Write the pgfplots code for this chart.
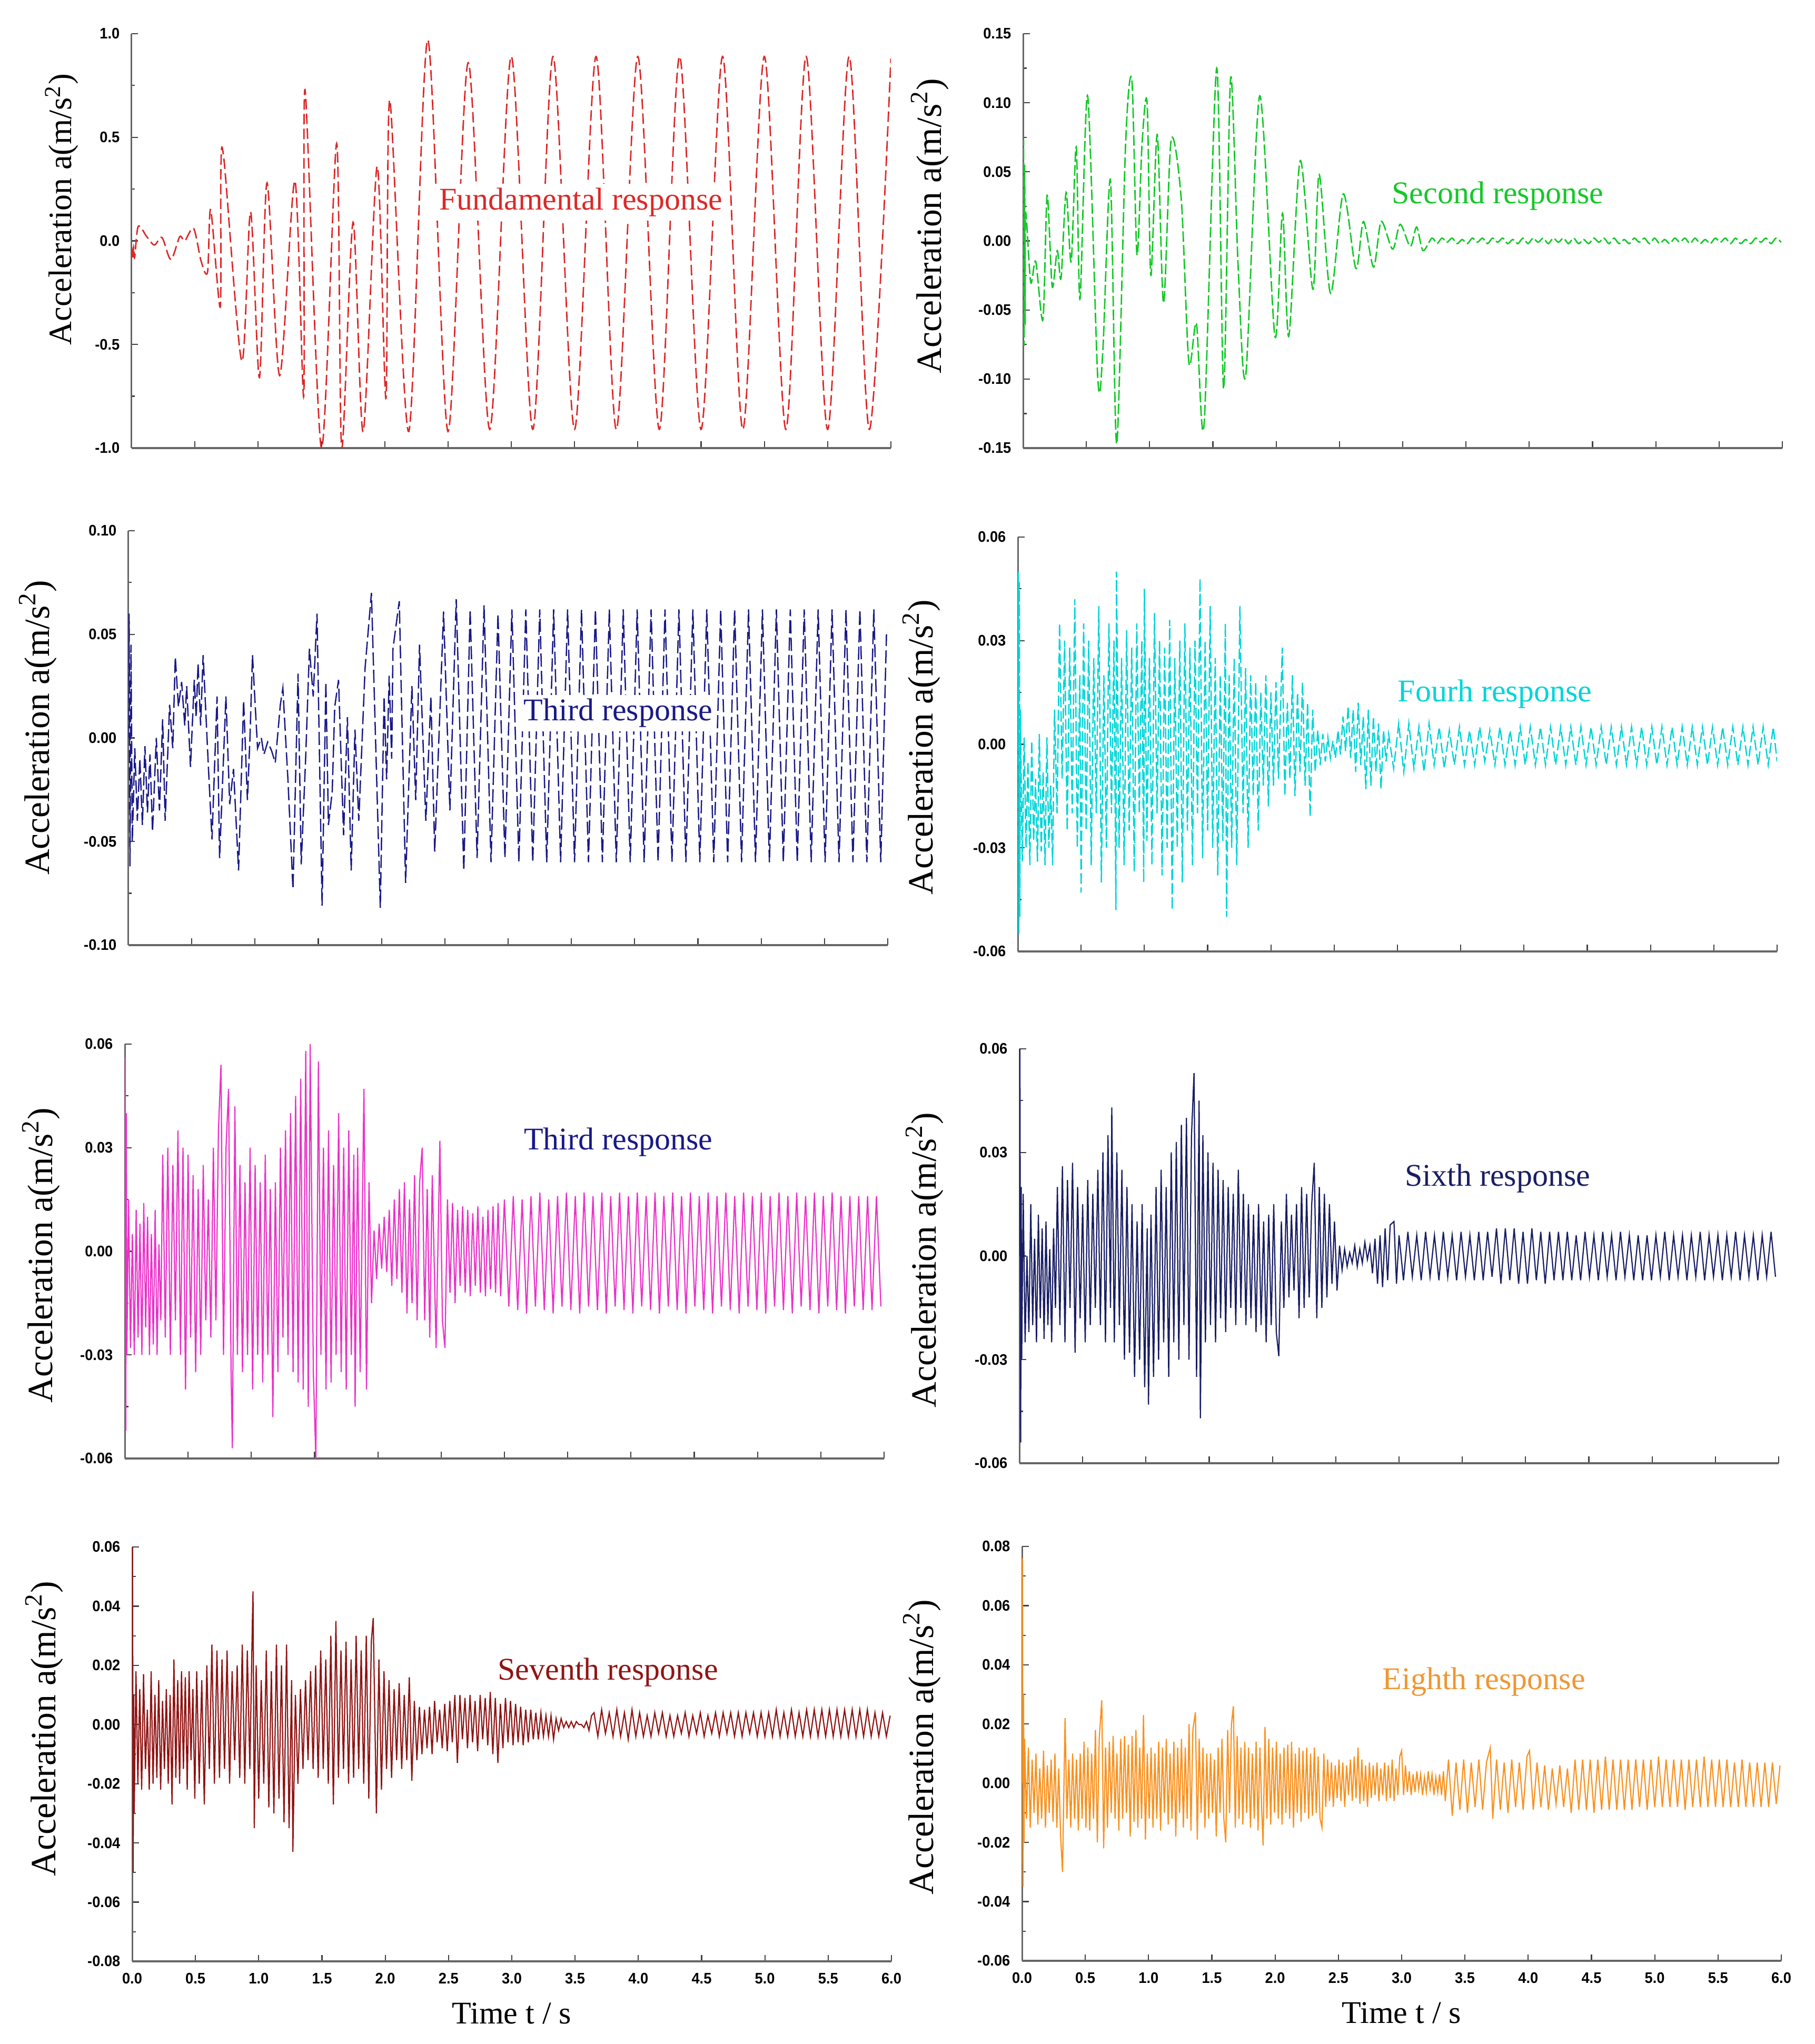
\documentclass[border=0pt]{standalone}
\usepackage{fontspec}
\setmainfont{Liberation Serif}
\newfontfamily\tickfont[FakeStretch=0.94]{Liberation Sans}
\usepackage{pgfplots}
\pgfplotsset{compat=1.18}
\definecolor{c1}{RGB}{220,40,40}
\definecolor{c2}{RGB}{20,200,40}
\definecolor{c3}{RGB}{25,25,135}
\definecolor{c4}{RGB}{0,212,215}
\definecolor{c5}{RGB}{235,50,200}
\definecolor{c6}{RGB}{25,30,100}
\definecolor{c7}{RGB}{145,20,20}
\definecolor{c8}{RGB}{250,145,30}
\definecolor{t8}{RGB}{240,150,50}
\tikzset{tit/.style={font=\fontsize{12}{14}\selectfont, fill=white, inner sep=1.5pt}}
\pgfplotsset{
 resp/.style={
  scale only axis, width=288.4pt, height=157.4pt,
  xmin=0, xmax=6, xtick={0,0.5,...,6},
  scaled ticks=false,
  axis x line*=bottom, axis y line*=left,
  x axis line style={-, line width=0.9pt, draw=black!60},
  y axis line style={-, line width=0.6pt, draw=black!60},
  tick align=inside,
  major tick length=2.5pt, minor tick length=1.3pt,
  every tick/.style={black!75, line width=0.45pt},
  minor y tick num=1,
  tick label style={font={\fontsize{5.8}{7}\tickfont\bfseries}},
  /pgf/number format/assume math mode=true,
  yticklabel style={xshift=-1pt, /pgf/number format/fixed, /pgf/number format/fixed zerofill, /pgf/number format/precision=2},
  xticklabel style={yshift=-1pt, /pgf/number format/fixed, /pgf/number format/fixed zerofill, /pgf/number format/precision=1},
  ylabel={Acceleration a(m/s\textsuperscript{2})},
  every axis y label/.style={rotate=90, anchor=center, at={(axis description cs:-0.12,0.5)}, font=\fontsize{13.5}{15}\selectfont},
  every axis x label/.style={anchor=center, at={(axis description cs:0.5,-0.126)}, font=\fontsize{12}{14}\selectfont},
  anchor=south west,
 },
 nox/.style={xticklabels={}},
}
\begin{document}
\begin{tikzpicture}
\path[use as bounding box] (0,0) rectangle (689.4pt,776.4pt);
% ---------------- Panel 1
\begin{axis}[resp, nox, at={(50pt,606.2pt)}, ymin=-1, ymax=1, ytick={-1,-0.5,0,0.5,1},
  yticklabel style={/pgf/number format/precision=1},
  ylabel style={at={(axis description cs:-0.092,0.576)}, font=\fontsize{12.4}{14}\selectfont}]
\addplot[c1, line width=0.55pt, smooth, tension=0.5, dash pattern=on 4pt off 1.6pt] coordinates {
(0,-0.03) (0.008,-0.09) (0.016,-0.03) (0.024,-0.08) (0.052,0.07) (0.12,0.02) (0.18,-0.02) (0.24,0.016) (0.31,-0.09) (0.38,0.02) (0.42,0.0) (0.49,0.06) (0.55,-0.10) (0.60,-0.15) (0.625,0.15) (0.70,-0.32) (0.705,0.33) (0.73,0.39) (0.87,-0.58) (0.94,0.14) (1.01,-0.66) (1.07,0.28) (1.17,-0.65) (1.29,0.29) (1.36,-0.75) (1.37,0.73) (1.50,-1.0) (1.62,0.47) (1.66,-1.0) (1.75,0.09) (1.83,-0.92) (1.94,0.36) (2.01,-0.76) (2.04,0.68) (2.19,-0.92) (2.34,0.97) (2.50,-0.92) (2.66,0.86) (2.83,-0.91) (3.00,0.89) (3.17,-0.91) (3.33,0.89) (3.50,-0.91) (3.67,0.89) (3.83,-0.91) (4.00,0.89) (4.17,-0.91) (4.33,0.89) (4.50,-0.91) (4.67,0.89) (4.83,-0.91) (5.00,0.89) (5.17,-0.91) (5.33,0.89) (5.50,-0.91) (5.67,0.89) (5.83,-0.91) (6.00,0.88)};
\node[tit, text=c1] at (axis cs:3.55,0.187) {Fundamental response};
\end{axis}
% ---------------- Panel 2
\begin{axis}[resp, nox, at={(388.6pt,606.2pt)}, ymin=-0.15, ymax=0.15, ytick={-0.15,-0.1,-0.05,0,0.05,0.1,0.15},
  ylabel style={at={(axis description cs:-0.123,0.536)}}]
\addplot[c2, line width=0.55pt, smooth, tension=0.5, dash pattern=on 4pt off 1.2pt] coordinates {
(0,0) (0.004,0.072) (0.008,-0.076) (0.012,0.055) (0.016,-0.06) (0.02,0.02) (0.06,-0.03) (0.10,-0.015) (0.157,-0.057) (0.19,0.033) (0.23,-0.033) (0.27,-0.007) (0.30,-0.027) (0.34,0.035) (0.38,-0.015) (0.42,0.068) (0.45,-0.042) (0.51,0.105) (0.59,-0.099) (0.63,-0.08) (0.69,0.044) (0.74,-0.147) (0.81,0.07) (0.86,0.116) (0.90,-0.01) (0.94,0.07) (0.98,0.10) (1.01,-0.025) (1.06,0.077) (1.11,-0.045) (1.17,0.073) (1.25,0.03) (1.31,-0.088) (1.37,-0.06) (1.43,-0.133) (1.53,0.125) (1.585,-0.107) (1.64,0.118) (1.70,-0.02) (1.76,-0.097) (1.87,0.105) (1.99,-0.069) (2.05,0.02) (2.10,-0.069) (2.19,0.058) (2.29,-0.035) (2.34,0.048) (2.43,-0.038) (2.53,0.034) (2.63,-0.02) (2.69,0.014) (2.77,-0.019) (2.83,0.014) (2.92,-0.006) (2.98,0.012) (3.06,-0.004) (3.11,0.010) (3.16,-0.007) (3.23,0.002)
(3.27,-0.002) (3.31,0.002) (3.35,-0.001) (3.39,0.002) (3.43,-0.002) (3.47,0.001) (3.51,-0.002) (3.55,0.002) (3.59,-0.001) (3.63,0.002) (3.67,-0.002) (3.71,0.002) (3.75,-0.001) (3.79,0.002) (3.83,-0.002) (3.87,0.001) (3.91,-0.002) (3.95,0.002) (3.99,-0.002) (4.03,0.002) (4.07,-0.001) (4.11,0.002) (4.15,-0.002) (4.19,0.002) (4.23,-0.001) (4.27,0.002) (4.31,-0.002) (4.35,0.002) (4.39,-0.002) (4.43,0.001) (4.47,-0.002) (4.51,0.002) (4.55,-0.001) (4.59,0.002) (4.63,-0.002) (4.67,0.002) (4.71,-0.002) (4.75,0.001) (4.79,-0.002) (4.83,0.002) (4.87,-0.001) (4.91,0.002) (4.95,-0.002) (4.99,0.002) (5.03,-0.002) (5.07,0.001) (5.11,-0.002) (5.15,0.002) (5.19,-0.001) (5.23,0.002) (5.27,-0.002) (5.31,0.002) (5.35,-0.002) (5.39,0.001) (5.43,-0.002) (5.47,0.002) (5.51,-0.001) (5.55,0.002) (5.59,-0.002) (5.63,0.002) (5.67,-0.002) (5.71,0.001) (5.75,-0.002) (5.79,0.002) (5.83,-0.001) (5.87,0.002) (5.91,-0.002) (5.95,0.002) (5.99,-0.001)};
\node[tit, text=c2] at (axis cs:3.75,0.0327) {Second response};
\end{axis}
% ---------------- Panel 3
\begin{axis}[resp, nox, at={(48.8pt,417.4pt)}, ymin=-0.1, ymax=0.1, ytick={-0.1,-0.05,0,0.05,0.1},
  ylabel style={at={(axis description cs:-0.119,0.525)}}]
\addplot[c3, line width=0.5pt, dash pattern=on 5pt off 1.6pt] coordinates {
(0,0.0) (0.005,0.06) (0.012,-0.062) (0.02,0.045) (0.03,-0.05) (0.05,-0.005) (0.07,-0.04) (0.09,-0.01) (0.11,-0.042) (0.13,-0.004) (0.15,-0.036) (0.17,-0.008) (0.19,-0.045) (0.22,0.0) (0.245,-0.035) (0.27,0.009) (0.29,-0.04) (0.325,0.016) (0.35,-0.005) (0.37,0.039) (0.395,0.015) (0.42,0.027) (0.445,0.006) (0.46,0.025) (0.49,-0.014) (0.52,0.028) (0.535,0.01) (0.55,0.036) (0.57,0.006) (0.59,0.04) (0.63,-0.012) (0.66,-0.049) (0.70,0.02) (0.72,-0.058) (0.77,0.02) (0.80,-0.032) (0.83,-0.015) (0.87,-0.064) (0.91,0.018) (0.94,-0.03) (0.96,0.0) (0.98,0.04) (1.02,-0.005) (1.05,0.0) (1.07,-0.008) (1.10,-0.002) (1.13,-0.006) (1.16,-0.012) (1.20,0.016) (1.22,0.024) (1.26,-0.02) (1.30,-0.073) (1.34,0.031) (1.365,-0.061) (1.40,-0.01) (1.43,0.043) (1.46,0.02) (1.49,0.06) (1.53,-0.081) (1.56,0.027) (1.58,-0.042) (1.61,-0.026) (1.63,0.015) (1.66,0.028) (1.70,-0.047) (1.73,0.01) (1.76,-0.064) (1.79,0.004) (1.82,-0.04) (1.87,0.034) (1.92,0.07) (1.99,-0.082) (2.02,0.02) (2.04,-0.02) (2.06,0.03) (2.08,-0.01) (2.09,0.043) (2.14,0.066) (2.19,-0.07) (2.24,0.025) (2.27,-0.03) (2.30,0.045) (2.35,-0.04) (2.39,0.02) (2.42,-0.055) (2.49,0.061) (2.54,-0.035) (2.59,0.067) (2.65,-0.064)
(2.70,0.062) (2.755,-0.058) (2.81,0.064) (2.865,-0.06) (2.92,0.06) (2.975,-0.058) (3.03,0.062) (3.085,-0.06) (3.14,0.062) (3.195,-0.06) (3.25,0.062) (3.305,-0.06) (3.36,0.062) (3.415,-0.06) (3.47,0.062) (3.525,-0.06) (3.58,0.062) (3.635,-0.06) (3.69,0.062) (3.745,-0.06) (3.80,0.062) (3.855,-0.06) (3.91,0.062) (3.965,-0.06) (4.02,0.062) (4.075,-0.06) (4.13,0.062) (4.185,-0.06) (4.24,0.062) (4.295,-0.06) (4.35,0.062) (4.405,-0.06) (4.46,0.062) (4.515,-0.06) (4.57,0.062) (4.625,-0.06) (4.68,0.062) (4.735,-0.06) (4.79,0.062) (4.845,-0.06) (4.90,0.062) (4.955,-0.06) (5.01,0.062) (5.065,-0.06) (5.12,0.062) (5.175,-0.06) (5.23,0.062) (5.285,-0.06) (5.34,0.062) (5.395,-0.06) (5.45,0.062) (5.505,-0.06) (5.56,0.062) (5.615,-0.06) (5.67,0.062) (5.725,-0.06) (5.78,0.062) (5.835,-0.06) (5.89,0.062) (5.945,-0.06) (5.99,0.05)};
\node[tit, text=c3] at (axis cs:3.87,0.012) {Third response};
\end{axis}
% ---------------- Panel 4
\begin{axis}[resp, nox, at={(386.6pt,415pt)}, ymin=-0.06, ymax=0.06, ytick={-0.06,-0.03,0,0.03,0.06},
  ylabel style={at={(axis description cs:-0.127,0.493)}}]
\addplot[c4, line width=0.5pt, dash pattern=on 4pt off 1.4pt] coordinates {
(0,0) (0.004,0.05) (0.008,-0.055) (0.012,0.047) (0.016,-0.05) (0.02,0.01) (0.035,-0.034) (0.05,0.002) (0.065,-0.03) (0.08,-0.005) (0.095,-0.035) (0.11,0.001) (0.125,-0.028) (0.14,-0.01) (0.155,-0.034) (0.17,0.003) (0.185,-0.031) (0.20,-0.008) (0.215,-0.035) (0.23,0.002) (0.245,-0.03) (0.26,-0.012) (0.275,-0.035) (0.29,0.01) (0.31,-0.02) (0.33,0.035) (0.35,-0.01) (0.37,0.03) (0.39,-0.025) (0.41,0.028) (0.43,-0.02) (0.45,0.042) (0.47,-0.03) (0.49,0.02) (0.50,-0.043) (0.52,0.035) (0.54,-0.025) (0.56,0.03) (0.58,-0.035) (0.60,0.025) (0.62,-0.02) (0.64,0.04) (0.66,-0.04) (0.68,0.02) (0.70,-0.03) (0.72,0.035) (0.74,-0.02) (0.76,0.03) (0.775,-0.048) (0.78,0.05) (0.80,-0.03) (0.82,0.025) (0.84,-0.035) (0.86,0.033) (0.88,-0.025) (0.90,0.028) (0.92,-0.037) (0.94,0.035) (0.96,-0.02) (0.98,0.03) (0.995,-0.04) (1.00,0.045) (1.02,-0.028) (1.04,0.025) (1.06,-0.035) (1.08,0.038) (1.10,-0.02) (1.12,0.03) (1.14,-0.038) (1.16,0.028) (1.18,-0.03) (1.20,0.036) (1.22,-0.048) (1.24,0.025) (1.26,-0.03) (1.28,0.03) (1.30,-0.04) (1.32,0.035) (1.34,-0.025) (1.36,0.028) (1.38,-0.035) (1.40,0.03) (1.42,-0.02) (1.44,0.048) (1.46,-0.033) (1.48,0.03) (1.50,-0.025) (1.52,0.04) (1.54,-0.03) (1.56,0.025) (1.58,-0.038) (1.60,0.02) (1.62,-0.028) (1.64,0.035) (1.65,-0.05) (1.67,0.02) (1.69,-0.03) (1.71,0.025) (1.73,-0.035) (1.755,0.04) (1.78,-0.02) (1.80,0.022) (1.82,-0.03) (1.84,0.02) (1.86,-0.015) (1.88,0.018) (1.90,-0.025) (1.92,0.015) (1.94,-0.012) (1.96,0.02) (1.98,-0.018) (2.00,0.015) (2.02,-0.012) (2.04,0.018) (2.06,-0.01) (2.09,0.028) (2.11,-0.015) (2.13,0.012) (2.15,-0.01) (2.17,0.02) (2.19,-0.015) (2.21,0.015) (2.23,-0.008) (2.25,0.018) (2.27,-0.012) (2.29,0.012) (2.31,-0.021) (2.33,0.01) (2.35,-0.008) (2.37,0.004) (2.39,-0.006) (2.41,0.003) (2.43,-0.005) (2.45,0.002) (2.47,-0.004) (2.49,0.001) (2.51,-0.004) (2.53,0.004) (2.55,-0.003) (2.57,0.008) (2.59,-0.002) (2.61,0.011) (2.63,-0.004) (2.65,0.01) (2.67,-0.008) (2.69,0.012) (2.71,-0.006) (2.73,0.008) (2.75,-0.013) (2.77,0.01) (2.79,-0.012) (2.81,0.008) (2.83,-0.008) (2.85,0.006) (2.87,-0.013) (2.89,0.004) (2.91,-0.005) (2.93,0.003)
(2.97,-0.007) (3.01,0.006) (3.05,-0.008) (3.09,0.006) (3.13,-0.007) (3.17,0.005) (3.21,-0.008) (3.25,0.006) (3.29,-0.006) (3.33,0.005) (3.37,-0.007) (3.41,0.004) (3.45,-0.006) (3.49,0.005) (3.53,-0.006) (3.57,0.004) (3.61,-0.006) (3.65,0.005) (3.69,-0.005) (3.73,0.004) (3.77,-0.006) (3.81,0.005) (3.85,-0.006) (3.89,0.004) (3.93,-0.006) (3.97,0.005) (4.01,-0.006) (4.05,0.005) (4.09,-0.006) (4.13,0.005) (4.17,-0.006) (4.21,0.005) (4.25,-0.006) (4.29,0.005) (4.33,-0.006) (4.37,0.005) (4.41,-0.006) (4.45,0.005) (4.49,-0.006) (4.53,0.005) (4.57,-0.006) (4.61,0.005) (4.65,-0.006) (4.69,0.005) (4.73,-0.006) (4.77,0.005) (4.81,-0.006) (4.85,0.005) (4.89,-0.006) (4.93,0.005) (4.97,-0.006) (5.01,0.005) (5.05,-0.006) (5.09,0.005) (5.13,-0.006) (5.17,0.005) (5.21,-0.006) (5.25,0.005) (5.29,-0.006) (5.33,0.005) (5.37,-0.006) (5.41,0.005) (5.45,-0.006) (5.49,0.005) (5.53,-0.006) (5.57,0.005) (5.61,-0.006) (5.65,0.005) (5.69,-0.006) (5.73,0.005) (5.77,-0.006) (5.81,0.005) (5.85,-0.006) (5.89,0.005) (5.93,-0.006) (5.97,0.005) (6.0,-0.005)};
\node[tit, text=c4] at (axis cs:3.77,0.0145) {Fourh response};
\end{axis}
% ---------------- Panel 5
\begin{axis}[resp, nox, at={(47.4pt,222.4pt)}, ymin=-0.06, ymax=0.06, ytick={-0.06,-0.03,0,0.03,0.06},
  ylabel style={at={(axis description cs:-0.110,0.49)}}]
\addplot[c5, line width=0.45pt] coordinates {
(0,0) (0.004,0.056) (0.008,-0.052) (0.012,0.04) (0.016,-0.03) (0.03,0.015) (0.045,-0.028) (0.06,0.005) (0.075,-0.03) (0.09,0.012) (0.105,-0.025) (0.12,0.008) (0.135,-0.03) (0.15,0.014) (0.165,-0.022) (0.18,0.01) (0.195,-0.03) (0.21,0.005) (0.225,-0.027) (0.24,0.012) (0.255,-0.03) (0.27,0.002) (0.285,-0.02) (0.30,0.028) (0.32,-0.025) (0.34,0.03) (0.36,-0.03) (0.38,0.025) (0.40,-0.02) (0.42,0.035) (0.44,-0.03) (0.46,0.03) (0.48,-0.04) (0.50,0.028) (0.52,-0.025) (0.54,0.022) (0.56,-0.035) (0.58,0.018) (0.60,-0.03) (0.62,0.025) (0.64,-0.02) (0.66,0.015) (0.68,-0.025) (0.70,0.03) (0.72,-0.02) (0.74,0.035) (0.76,0.054) (0.78,-0.03) (0.80,0.03) (0.82,0.047) (0.84,-0.035) (0.85,-0.057) (0.87,0.042) (0.89,-0.03) (0.91,0.025) (0.93,-0.035) (0.95,0.02) (0.97,-0.03) (0.99,0.03) (1.01,-0.04) (1.03,0.025) (1.05,-0.03) (1.07,0.02) (1.09,-0.038) (1.11,0.028) (1.13,-0.03) (1.15,0.018) (1.17,-0.048) (1.19,0.02) (1.21,-0.035) (1.23,0.03) (1.25,-0.025) (1.27,0.035) (1.29,-0.03) (1.31,0.04) (1.33,-0.035) (1.35,0.045) (1.37,-0.038) (1.39,0.05) (1.41,-0.04) (1.43,0.058) (1.45,-0.045) (1.465,0.06) (1.49,-0.035) (1.51,-0.06) (1.53,0.055) (1.55,-0.03) (1.57,0.03) (1.59,-0.04) (1.61,0.035) (1.63,-0.038) (1.65,0.025) (1.67,-0.03) (1.69,0.04) (1.71,-0.035) (1.73,0.03) (1.75,-0.04) (1.77,0.035) (1.79,-0.03) (1.81,0.028) (1.82,-0.045) (1.84,0.03) (1.86,-0.035) (1.89,0.047) (1.91,-0.04) (1.93,0.02) (1.95,-0.015) (1.97,0.006) (1.99,-0.008) (2.01,0.008) (2.03,-0.005) (2.05,0.01) (2.07,-0.006) (2.09,0.012) (2.11,-0.01) (2.13,0.015) (2.15,-0.008) (2.17,0.018) (2.19,-0.012) (2.21,0.02) (2.23,-0.018) (2.25,0.015) (2.27,-0.015) (2.29,0.022) (2.31,-0.02) (2.33,0.02) (2.35,0.03) (2.37,-0.02) (2.39,0.018) (2.41,-0.025) (2.43,0.022) (2.46,-0.028) (2.49,0.032) (2.51,-0.02) (2.53,-0.028) (2.55,0.015) (2.57,-0.012) (2.59,0.014) (2.61,-0.015) (2.63,0.012) (2.65,-0.01) (2.67,0.013) (2.69,-0.012) (2.71,0.012) (2.73,-0.013) (2.75,0.011) (2.77,-0.01) (2.79,0.013) (2.81,-0.012) (2.83,0.01) (2.85,-0.013) (2.87,0.012) (2.89,-0.011) (2.91,0.013) (2.93,-0.012) (2.95,0.014) (2.97,-0.013)
(3.000,0.015) (3.035,-0.016) (3.070,0.016) (3.105,-0.017) (3.140,0.015) (3.175,-0.018) (3.210,0.016) (3.245,-0.016) (3.280,0.017) (3.315,-0.017) (3.350,0.015) (3.385,-0.018) (3.420,0.016) (3.455,-0.016) (3.490,0.017) (3.525,-0.017) (3.560,0.016) (3.595,-0.018) (3.630,0.017) (3.665,-0.016) (3.700,0.016) (3.735,-0.017) (3.770,0.017) (3.805,-0.018) (3.840,0.016) (3.875,-0.016) (3.910,0.017) (3.945,-0.017) (3.980,0.016) (4.015,-0.018) (4.050,0.017) (4.085,-0.016) (4.120,0.016) (4.155,-0.017) (4.190,0.017) (4.225,-0.018) (4.260,0.016) (4.295,-0.016) (4.330,0.017) (4.365,-0.017) (4.400,0.016) (4.435,-0.018) (4.470,0.017) (4.505,-0.016) (4.540,0.016) (4.575,-0.017) (4.610,0.017) (4.645,-0.018) (4.680,0.016) (4.715,-0.016) (4.750,0.017) (4.785,-0.017) (4.820,0.016) (4.855,-0.018) (4.890,0.017) (4.925,-0.016) (4.960,0.016) (4.995,-0.017) (5.030,0.017) (5.065,-0.018) (5.100,0.016) (5.135,-0.016) (5.170,0.017) (5.205,-0.017) (5.240,0.016) (5.275,-0.018) (5.310,0.017) (5.345,-0.016) (5.380,0.016) (5.415,-0.017) (5.450,0.017) (5.485,-0.018) (5.520,0.016) (5.555,-0.016) (5.590,0.017) (5.625,-0.017) (5.660,0.016) (5.695,-0.018) (5.730,0.016) (5.765,-0.016) (5.800,0.016) (5.835,-0.017) (5.870,0.016) (5.905,-0.017) (5.940,0.016) (5.975,-0.016)};
\node[tit, text=c3] at (axis cs:3.9,0.0317) {Third response};
\end{axis}
% ---------------- Panel 6
\begin{axis}[resp, nox, at={(387.2pt,220.6pt)}, ymin=-0.06, ymax=0.06, ytick={-0.06,-0.03,0,0.03,0.06},
  ylabel style={at={(axis description cs:-0.125,0.49)}}]
\addplot[c6, line width=0.45pt] coordinates {
(0,0) (0.004,0.06) (0.01,-0.054) (0.014,0.02) (0.018,-0.03) (0.03,0.018) (0.045,-0.025) (0.06,0.0) (0.075,-0.022) (0.09,0.015) (0.105,-0.02) (0.12,0.005) (0.135,-0.025) (0.15,0.012) (0.165,-0.018) (0.18,0.008) (0.195,-0.024) (0.21,0.01) (0.225,-0.02) (0.24,0.002) (0.255,-0.025) (0.27,0.008) (0.285,-0.015) (0.30,0.02) (0.32,-0.02) (0.34,0.026) (0.36,-0.025) (0.38,0.022) (0.40,-0.015) (0.42,0.027) (0.44,-0.028) (0.46,0.02) (0.48,-0.018) (0.50,0.015) (0.52,-0.025) (0.54,0.022) (0.56,-0.02) (0.58,0.018) (0.60,-0.015) (0.62,0.025) (0.64,-0.02) (0.66,0.03) (0.68,-0.025) (0.70,0.035) (0.72,-0.015) (0.73,0.043) (0.75,-0.025) (0.77,0.03) (0.79,-0.02) (0.81,0.025) (0.83,-0.03) (0.85,0.02) (0.87,-0.028) (0.89,0.015) (0.91,-0.035) (0.93,0.01) (0.95,-0.03) (0.97,0.015) (0.99,-0.038) (1.01,0.008) (1.02,-0.043) (1.04,0.012) (1.06,-0.035) (1.08,0.02) (1.10,-0.03) (1.12,0.025) (1.14,-0.025) (1.16,0.02) (1.18,-0.035) (1.20,0.03) (1.22,-0.025) (1.24,0.033) (1.26,-0.03) (1.28,0.038) (1.30,-0.02) (1.32,0.04) (1.34,-0.03) (1.36,0.035) (1.38,0.053) (1.40,-0.035) (1.42,0.045) (1.43,-0.047) (1.45,0.035) (1.47,-0.025) (1.49,0.03) (1.51,-0.02) (1.53,0.027) (1.55,-0.025) (1.57,0.025) (1.59,-0.018) (1.61,0.022) (1.63,-0.022) (1.65,0.02) (1.67,-0.015) (1.69,0.018) (1.71,-0.02) (1.73,0.025) (1.75,-0.015) (1.77,0.018) (1.79,-0.02) (1.81,0.015) (1.83,-0.018) (1.85,0.012) (1.87,-0.022) (1.89,0.015) (1.91,-0.02) (1.93,0.01) (1.95,-0.025) (1.97,0.012) (1.99,-0.02) (2.01,0.015) (2.03,-0.022) (2.05,-0.029) (2.07,0.01) (2.09,-0.015) (2.11,0.018) (2.13,-0.012) (2.15,0.012) (2.17,-0.01) (2.19,0.015) (2.21,-0.018) (2.23,0.02) (2.25,-0.015) (2.27,0.018) (2.29,-0.012) (2.31,0.015) (2.33,0.027) (2.35,-0.018) (2.37,0.02) (2.39,-0.015) (2.41,0.018) (2.43,-0.012) (2.45,0.015) (2.47,-0.008) (2.49,0.01) (2.51,-0.01) (2.53,0.003) (2.55,-0.004) (2.57,0.002) (2.59,-0.003) (2.61,0.001) (2.63,-0.002) (2.65,0.003) (2.67,-0.003) (2.69,0.002) (2.71,-0.002) (2.73,0.004) (2.75,-0.001) (2.77,0.003) (2.79,-0.005) (2.81,0.005) (2.83,-0.008) (2.85,0.006) (2.87,-0.009) (2.89,0.008) (2.91,-0.007) (2.93,0.009) (2.96,0.01) (2.98,-0.008)
(3.000,0.006) (3.035,-0.007) (3.070,0.007) (3.105,-0.006) (3.140,0.006) (3.175,-0.007) (3.210,0.007) (3.245,-0.006) (3.280,0.006) (3.315,-0.007) (3.350,0.007) (3.385,-0.006) (3.420,0.006) (3.455,-0.007) (3.490,0.007) (3.525,-0.006) (3.560,0.006) (3.595,-0.007) (3.630,0.007) (3.665,-0.007) (3.700,0.007) (3.735,-0.006) (3.770,0.008) (3.805,-0.008) (3.840,0.008) (3.875,-0.007) (3.910,0.008) (3.945,-0.008) (3.980,0.007) (4.015,-0.008) (4.050,0.008) (4.085,-0.007) (4.120,0.007) (4.155,-0.008) (4.190,0.007) (4.225,-0.007) (4.260,0.007) (4.295,-0.007) (4.330,0.007) (4.365,-0.007) (4.400,0.006) (4.435,-0.007) (4.470,0.007) (4.505,-0.006) (4.540,0.006) (4.575,-0.007) (4.610,0.007) (4.645,-0.006) (4.680,0.006) (4.715,-0.007) (4.750,0.007) (4.785,-0.006) (4.820,0.006) (4.855,-0.007) (4.890,0.006) (4.925,-0.007) (4.960,0.006) (4.995,-0.007) (5.030,0.006) (5.065,-0.006) (5.100,0.007) (5.135,-0.007) (5.170,0.006) (5.205,-0.006) (5.240,0.006) (5.275,-0.007) (5.310,0.006) (5.345,-0.006) (5.380,0.007) (5.415,-0.007) (5.450,0.006) (5.485,-0.006) (5.520,0.006) (5.555,-0.007) (5.590,0.006) (5.625,-0.006) (5.660,0.007) (5.695,-0.007) (5.730,0.006) (5.765,-0.006) (5.800,0.006) (5.835,-0.007) (5.870,0.006) (5.905,-0.006) (5.940,0.007) (5.975,-0.006)};
\node[tit, text=c6] at (axis cs:3.78,0.0225) {Sixth response};
\end{axis}
% ---------------- Panel 7
\begin{axis}[resp, at={(50.2pt,31.4pt)}, ymin=-0.08, ymax=0.06, ytick={-0.08,-0.06,-0.04,-0.02,0,0.02,0.04,0.06},
  ylabel style={at={(axis description cs:-0.116,0.561)}}, xlabel={Time t / s}]
\addplot[c7, line width=0.45pt] coordinates {
(0,0) (0.003,0.06) (0.008,-0.05) (0.012,0.01) (0.016,-0.03) (0.03,0.018) (0.045,-0.02) (0.06,0.012) (0.075,-0.022) (0.09,0.017) (0.105,-0.015) (0.12,0.005) (0.135,-0.022) (0.15,0.018) (0.165,-0.02) (0.18,0.01) (0.195,-0.018) (0.21,0.015) (0.225,-0.022) (0.24,0.008) (0.255,-0.015) (0.27,0.012) (0.285,-0.02) (0.30,0.01) (0.315,-0.027) (0.33,0.022) (0.345,-0.018) (0.36,0.015) (0.375,-0.02) (0.39,0.018) (0.405,-0.015) (0.42,0.016) (0.435,-0.022) (0.45,0.018) (0.465,-0.012) (0.48,0.012) (0.495,-0.025) (0.51,0.018) (0.53,-0.02) (0.55,0.015) (0.57,-0.027) (0.59,0.02) (0.61,-0.015) (0.63,0.027) (0.65,-0.02) (0.67,0.025) (0.69,-0.018) (0.71,0.022) (0.73,-0.015) (0.75,0.025) (0.77,-0.02) (0.79,0.018) (0.81,-0.012) (0.83,0.02) (0.85,-0.018) (0.87,0.027) (0.89,-0.02) (0.91,0.025) (0.93,-0.015) (0.95,0.035) (0.955,0.045) (0.965,-0.035) (0.98,0.02) (1.00,-0.025) (1.02,0.015) (1.04,-0.02) (1.06,0.025) (1.08,-0.028) (1.10,0.018) (1.12,-0.03) (1.14,0.027) (1.16,-0.025) (1.18,0.02) (1.20,-0.033) (1.22,0.027) (1.24,-0.035) (1.26,0.015) (1.27,-0.043) (1.29,0.01) (1.31,-0.02) (1.33,0.012) (1.35,-0.015) (1.37,0.015) (1.39,-0.012) (1.41,0.018) (1.43,-0.015) (1.45,0.02) (1.47,-0.018) (1.49,0.025) (1.51,-0.015) (1.53,0.022) (1.55,-0.02) (1.57,0.03) (1.59,-0.027) (1.61,0.035) (1.63,-0.018) (1.65,0.025) (1.67,-0.015) (1.69,0.028) (1.71,-0.02) (1.73,0.022) (1.75,-0.018) (1.77,0.03) (1.79,-0.015) (1.81,0.025) (1.83,-0.02) (1.85,0.03) (1.87,-0.025) (1.89,0.028) (1.905,0.036) (1.93,-0.03) (1.95,0.022) (1.97,-0.022) (1.99,0.018) (2.01,-0.015) (2.03,0.015) (2.05,-0.018) (2.07,0.012) (2.09,-0.012) (2.11,0.014) (2.13,-0.015) (2.15,0.01) (2.17,-0.012) (2.19,0.016) (2.21,-0.019) (2.23,0.008) (2.25,-0.012) (2.27,0.006) (2.29,-0.01) (2.31,0.005) (2.33,-0.008) (2.35,0.006) (2.37,-0.01) (2.39,0.008) (2.41,-0.006) (2.43,0.005) (2.45,-0.008) (2.47,0.007) (2.49,-0.009) (2.51,0.008) (2.53,-0.006) (2.55,0.01) (2.57,-0.013) (2.59,0.01) (2.61,-0.005) (2.63,0.009) (2.65,-0.008) (2.67,0.01) (2.69,-0.006) (2.71,0.008) (2.73,-0.009) (2.75,0.01) (2.77,-0.005) (2.79,0.009) (2.81,-0.007) (2.83,0.011) (2.85,-0.01) (2.87,0.009) (2.89,-0.013) (2.91,0.007) (2.93,-0.008) (2.95,0.009) (2.97,-0.006) (2.99,0.008) (3.01,-0.007) (3.03,0.007) (3.05,-0.006) (3.07,0.006) (3.09,-0.007) (3.11,0.005) (3.13,-0.006) (3.15,0.005) (3.17,-0.005) (3.19,0.004) (3.21,-0.005) (3.23,0.004) (3.25,-0.004) (3.27,0.003) (3.29,-0.004) (3.31,0.003) (3.33,-0.005) (3.35,0.002) (3.37,-0.002) (3.39,0.002) (3.41,-0.001) (3.43,0.001) (3.45,-0.001) (3.47,0.001) (3.49,-0.001) (3.51,0.001) (3.53,0.0) (3.55,0.0) (3.57,-0.001) (3.59,0.001) (3.61,-0.002) (3.63,0.003)
(3.65,0.004) (3.68,-0.004) (3.71,0.005) (3.74,-0.003) (3.77,0.004) (3.80,-0.004) (3.83,0.005) (3.86,-0.004) (3.89,0.004) (3.92,-0.005) (3.95,0.005) (3.98,-0.004) (4.01,0.004) (4.04,-0.004) (4.07,0.003) (4.10,-0.004) (4.13,0.004) (4.16,-0.003) (4.19,0.004) (4.22,-0.004) (4.25,0.003) (4.28,-0.004) (4.31,0.003) (4.34,-0.003) (4.37,0.004) (4.40,-0.004) (4.43,0.003) (4.46,-0.003) (4.49,0.004) (4.52,-0.004) (4.55,0.003) (4.58,-0.003) (4.61,0.004) (4.64,-0.004) (4.67,0.004) (4.70,-0.003) (4.73,0.004) (4.76,-0.004) (4.79,0.004) (4.82,-0.004) (4.85,0.004) (4.88,-0.003) (4.91,0.004) (4.94,-0.004) (4.97,0.004) (5.00,-0.004) (5.03,0.004) (5.06,-0.004) (5.09,0.005) (5.12,-0.004) (5.15,0.004) (5.18,-0.004) (5.21,0.005) (5.24,-0.004) (5.27,0.004) (5.30,-0.004) (5.33,0.005) (5.36,-0.004) (5.39,0.005) (5.42,-0.004) (5.45,0.005) (5.48,-0.004) (5.51,0.005) (5.54,-0.004) (5.57,0.005) (5.60,-0.004) (5.63,0.005) (5.66,-0.004) (5.69,0.005) (5.72,-0.004) (5.75,0.005) (5.78,-0.004) (5.81,0.005) (5.84,-0.004) (5.87,0.004) (5.90,-0.004) (5.93,0.004) (5.96,-0.004) (5.99,0.003)};
\node[tit, text=c7] at (axis cs:3.76,0.0177) {Seventh response};
\end{axis}
% ---------------- Panel 8
\begin{axis}[resp, at={(388.2pt,31.6pt)}, ymin=-0.06, ymax=0.08, ytick={-0.06,-0.04,-0.02,0,0.02,0.04,0.06,0.08},
  ylabel style={at={(axis description cs:-0.132,0.516)}}, xlabel={Time t / s}]
\addplot[c8, line width=0.45pt] coordinates {
(0,0) (0.004,0.076) (0.008,-0.035) (0.012,0.03) (0.016,-0.02) (0.02,0.015) (0.035,-0.012) (0.05,0.012) (0.065,-0.015) (0.08,0.008) (0.095,-0.01) (0.11,0.01) (0.125,-0.014) (0.14,0.005) (0.155,-0.012) (0.17,0.011) (0.185,-0.015) (0.20,0.006) (0.215,-0.01) (0.23,0.008) (0.245,-0.013) (0.26,0.01) (0.275,-0.015) (0.29,0.005) (0.305,-0.018) (0.32,-0.03) (0.34,0.022) (0.355,-0.012) (0.37,0.008) (0.385,-0.015) (0.40,0.01) (0.415,-0.012) (0.43,0.008) (0.445,-0.016) (0.46,0.01) (0.475,-0.012) (0.49,0.014) (0.505,-0.015) (0.52,0.012) (0.535,-0.016) (0.55,0.01) (0.565,-0.012) (0.58,0.018) (0.595,-0.02) (0.61,0.015) (0.63,0.028) (0.645,-0.022) (0.66,0.012) (0.675,-0.015) (0.69,0.014) (0.705,-0.01) (0.72,0.016) (0.735,-0.012) (0.75,0.01) (0.765,-0.016) (0.78,0.015) (0.795,-0.012) (0.81,0.016) (0.825,-0.01) (0.84,0.013) (0.855,-0.018) (0.87,0.016) (0.885,-0.013) (0.90,0.018) (0.915,-0.015) (0.93,0.012) (0.945,-0.012) (0.96,0.023) (0.975,-0.019) (0.99,0.01) (1.005,-0.012) (1.02,0.012) (1.035,-0.015) (1.05,0.01) (1.065,-0.012) (1.08,0.014) (1.095,-0.016) (1.11,0.012) (1.125,-0.01) (1.14,0.015) (1.155,-0.014) (1.17,0.01) (1.185,-0.012) (1.20,0.014) (1.215,-0.018) (1.23,0.012) (1.245,-0.01) (1.26,0.015) (1.275,-0.015) (1.29,0.012) (1.305,-0.012) (1.32,0.02) (1.335,-0.016) (1.35,0.018) (1.37,0.024) (1.385,-0.019) (1.40,0.015) (1.415,-0.01) (1.43,0.012) (1.445,-0.015) (1.46,0.01) (1.475,-0.012) (1.49,0.01) (1.505,-0.01) (1.52,0.008) (1.535,-0.018) (1.55,0.012) (1.565,-0.01) (1.58,0.015) (1.595,-0.012) (1.61,-0.02) (1.625,0.018) (1.64,-0.01) (1.655,0.02) (1.67,0.026) (1.685,-0.015) (1.70,0.016) (1.715,-0.012) (1.73,0.012) (1.745,-0.014) (1.76,0.014) (1.775,-0.01) (1.79,0.012) (1.805,-0.015) (1.82,0.01) (1.835,-0.012) (1.85,0.014) (1.865,-0.016) (1.88,0.012) (1.895,-0.01) (1.905,-0.021) (1.92,0.019) (1.935,-0.012) (1.95,0.015) (1.965,-0.014) (1.98,0.012) (1.995,-0.01) (2.01,0.014) (2.025,-0.012) (2.04,0.01) (2.055,-0.014) (2.07,0.012) (2.085,-0.01) (2.10,0.013) (2.115,-0.012) (2.13,0.014) (2.145,-0.015) (2.16,0.01) (2.175,-0.01) (2.19,0.012) (2.205,-0.013) (2.22,0.011) (2.235,-0.01) (2.25,0.012) (2.265,-0.012) (2.28,0.01) (2.295,-0.011) (2.31,0.012) (2.325,-0.01) (2.34,0.009) (2.355,-0.012) (2.37,-0.015) (2.385,0.01) (2.40,-0.008) (2.415,0.008) (2.43,-0.006) (2.445,0.007) (2.46,-0.008) (2.475,0.006) (2.49,-0.005) (2.505,0.008) (2.52,-0.006) (2.535,0.007) (2.55,-0.008) (2.565,0.006) (2.58,-0.004) (2.595,0.008) (2.61,-0.006) (2.625,0.009) (2.64,-0.005) (2.655,0.012) (2.67,-0.007) (2.685,0.008) (2.70,-0.006) (2.715,0.006) (2.73,-0.008) (2.745,0.007) (2.76,-0.005) (2.775,0.006) (2.79,-0.004) (2.805,0.007) (2.82,-0.006) (2.835,0.005) (2.85,-0.004) (2.865,0.007) (2.88,-0.006) (2.895,0.006) (2.91,-0.005) (2.925,0.008) (2.94,-0.006) (2.955,0.005) (2.97,-0.004) (2.985,0.009) (3.0,0.011) (3.015,-0.004) (3.03,0.006) (3.045,-0.003) (3.06,0.004) (3.075,-0.004) (3.09,0.003) (3.105,-0.003) (3.12,0.004) (3.135,-0.002) (3.15,0.003) (3.165,-0.004) (3.18,0.002) (3.195,-0.003) (3.21,0.004) (3.225,-0.002) (3.24,0.003) (3.255,-0.004) (3.27,0.002) (3.285,-0.003) (3.30,0.003) (3.315,-0.004) (3.33,0.004) (3.345,-0.006) (3.37,0.008) (3.40,-0.011) (3.43,0.007) (3.46,-0.009) (3.49,0.008) (3.52,-0.01) (3.55,0.007) (3.58,-0.008) (3.61,0.008) (3.64,-0.009) (3.67,0.007) (3.70,0.012) (3.72,-0.012) (3.75,0.008) (3.78,-0.009) (3.81,0.007) (3.84,-0.01) (3.87,0.008) (3.90,-0.008) (3.93,0.007) (3.96,-0.009) (3.99,0.009) (4.01,0.011) (4.04,-0.009) (4.07,0.007) (4.10,-0.008) (4.13,0.006) (4.16,-0.009) (4.19,0.005) (4.22,-0.007) (4.25,0.006) (4.28,-0.008) (4.31,0.005)
(4.34,-0.01) (4.37,0.008) (4.40,-0.009) (4.43,0.008) (4.46,-0.009) (4.49,0.008) (4.52,-0.01) (4.55,0.008) (4.58,-0.009) (4.61,0.009) (4.64,-0.009) (4.67,0.008) (4.70,-0.009) (4.73,0.008) (4.76,-0.009) (4.79,0.008) (4.82,-0.009) (4.85,0.008) (4.88,-0.008) (4.91,0.008) (4.94,-0.009) (4.97,0.008) (5.00,-0.008) (5.03,0.009) (5.06,-0.008) (5.09,0.008) (5.12,-0.008) (5.15,0.008) (5.18,-0.008) (5.21,0.008) (5.24,-0.009) (5.27,0.008) (5.30,-0.008) (5.33,0.008) (5.36,-0.008) (5.39,0.009) (5.42,-0.008) (5.45,0.008) (5.48,-0.008) (5.51,0.008) (5.54,-0.008) (5.57,0.008) (5.60,-0.008) (5.63,0.007) (5.66,-0.008) (5.69,0.008) (5.72,-0.008) (5.75,0.007) (5.78,-0.008) (5.81,0.007) (5.84,-0.008) (5.87,0.007) (5.90,-0.008) (5.93,0.007) (5.96,-0.007) (5.99,0.006)};
\node[tit, text=t8] at (axis cs:3.65,0.0343) {Eighth response};
\end{axis}
\end{tikzpicture}
\end{document}
